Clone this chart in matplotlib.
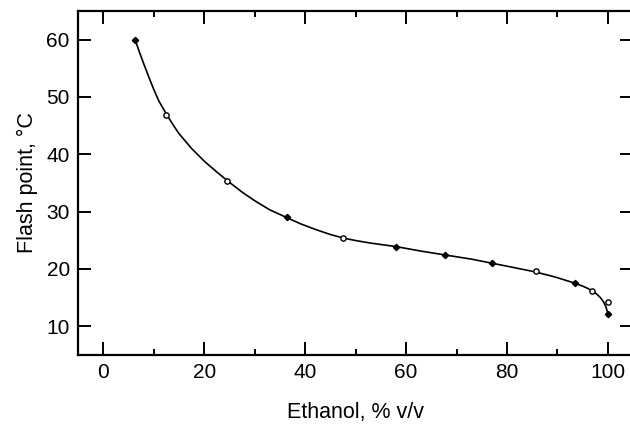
import matplotlib
matplotlib.use("Agg")
import matplotlib.pyplot as plt
from matplotlib.ticker import MultipleLocator

plt.rcParams["font.family"] = ["Liberation Sans", "DejaVu Sans"]

# measured points (filled diamonds / open circles)
filled_x = [6.3, 36.4, 58.0, 67.8, 77.0, 93.4, 100.0]
filled_y = [60.0, 29.0, 23.9, 22.4, 21.0, 17.6, 12.1]
open_x = [12.5, 24.6, 47.5, 85.7, 96.8, 100.0]
open_y = [46.9, 35.3, 25.4, 19.6, 16.1, 14.2]

# fitted curve
curve_x = [6.3, 7, 8, 9, 10, 11, 12.5, 14, 15, 17.5, 20, 22.5, 25, 27.5,
           30, 33, 36.5, 39, 42, 45, 47.5, 50, 53, 58, 63, 68, 73, 77, 81,
           85.5, 89.5, 93.5, 95, 96, 97, 97.8, 98.5, 99.1, 99.6, 100]
curve_y = [60.0, 58.2, 55.8, 53.5, 51.3, 49.3, 47.0, 44.9, 43.6, 41.0,
           38.8, 36.9, 35.1, 33.4, 31.9, 30.3, 28.9, 27.9, 26.9, 26.0,
           25.4, 24.95, 24.5, 23.9, 23.1, 22.4, 21.7, 21.0, 20.3, 19.5,
           18.6, 17.5, 17.0, 16.6, 16.1, 15.6, 15.0, 14.3, 13.4, 12.2]

fig = plt.figure(figsize=(6.3, 4.24), dpi=100)
ax = fig.add_axes([0.124, 0.163, 0.881, 0.811])

ax.plot(curve_x, curve_y, color="black", linewidth=1.2, zorder=2)
ax.plot(filled_x, filled_y, linestyle="none", marker="D", markersize=3.2,
        color="black", zorder=3)
ax.plot(open_x, open_y, linestyle="none", marker="o", markersize=3.8,
        markerfacecolor="white", markeredgecolor="black",
        markeredgewidth=1.0, zorder=3)

ax.set_xlim(-5, 105)
ax.set_ylim(5, 65)
ax.xaxis.set_major_locator(MultipleLocator(20))
ax.xaxis.set_minor_locator(MultipleLocator(10))
ax.yaxis.set_major_locator(MultipleLocator(10))

ax.tick_params(which="both", direction="in", top=True, right=True,
               width=1.4, colors="black")
ax.tick_params(which="major", length=9.5, labelsize=15)
ax.tick_params(axis="x", which="major", pad=6)
ax.tick_params(axis="y", which="major", pad=6)
ax.tick_params(which="minor", length=4.5)
ax.tick_params(axis="y", which="minor", left=False, right=False)

for spine in ax.spines.values():
    spine.set_linewidth(1.6)

ax.set_xlabel("Ethanol, % v/v", fontsize=15.5, labelpad=14)
ax.set_ylabel("Flash point, °C", fontsize=15.5, labelpad=6)

fig.savefig("out.png", dpi=100, facecolor="white")
